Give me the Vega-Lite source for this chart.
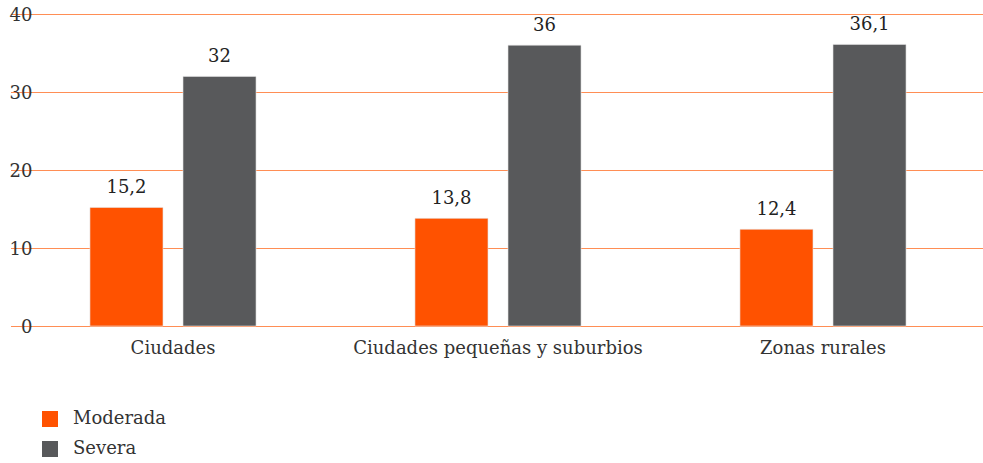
{
  "$schema": "https://vega.github.io/schema/vega-lite/v6.json",
  "autosize": "none",
  "padding": {"left": 41, "top": 14, "right": 0, "bottom": 137},
  "width": 942,
  "height": 312,
  "background": "white",
  "config": {
    "view": {"stroke": null},
    "font": "DejaVu Serif",
    "locale": {"number": {"decimal": ",", "thousands": ".", "grouping": [3], "currency": ["", " €"]}}
  },
  "data": {
    "values": [
      {"zona": "Ciudades", "tipo": "Moderada", "valor": 15.2},
      {"zona": "Ciudades", "tipo": "Severa", "valor": 32},
      {"zona": "Ciudades pequeñas y suburbios", "tipo": "Moderada", "valor": 13.8},
      {"zona": "Ciudades pequeñas y suburbios", "tipo": "Severa", "valor": 36},
      {"zona": "Zonas rurales", "tipo": "Moderada", "valor": 12.4},
      {"zona": "Zonas rurales", "tipo": "Severa", "valor": 36.1}
    ]
  },
  "encoding": {
    "x": {
      "field": "zona", "type": "nominal", "sort": null,
      "scale": {"range": [-30.5, 944.5], "paddingInner": 0.489, "paddingOuter": 0.2445},
      "axis": {"title": null, "labelAngle": 0, "labelLimit": 0, "domain": false, "ticks": false, "labelFontSize": 18, "labelColor": "#333333", "labelPadding": 13}
    },
    "xOffset": {"field": "tipo", "type": "nominal", "scale": {"paddingInner": 0.215, "paddingOuter": 0}},
    "y": {
      "field": "valor", "type": "quantitative",
      "scale": {"domain": [0, 40]},
      "axis": {"title": null, "values": [0, 10, 20, 30, 40], "domain": false, "ticks": false, "gridColor": "#FF8E55", "gridWidth": 1.2, "gridOpacity": 1, "labelFontSize": 18, "labelColor": "#333333", "labelPadding": 9, "labelOffset": 1}
    }
  },
  "layer": [
    {
      "mark": {"type": "bar", "stroke": "#e6e6e6", "strokeWidth": 0.6},
      "encoding": {
        "color": {
          "field": "tipo", "type": "nominal",
          "scale": {"domain": ["Moderada", "Severa"], "range": ["#FF5200", "#58595B"]},
          "legend": {"title": null, "orient": "none", "legendX": 0, "legendY": 396, "direction": "vertical", "symbolType": "square", "symbolSize": 256, "symbolStrokeWidth": 0, "labelFontSize": 18, "labelColor": "#333333", "labelOffset": 14, "rowPadding": 12}
        }
      }
    },
    {
      "mark": {"type": "text", "dy": -19, "fontSize": 18, "color": "#222222"},
      "encoding": {"text": {"field": "valor", "type": "quantitative", "format": ".1~f"}}
    }
  ]
}
